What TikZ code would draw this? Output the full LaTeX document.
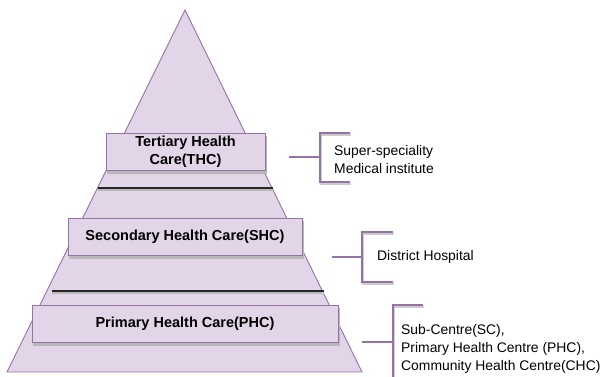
\documentclass[tikz,border=0pt]{standalone}
\usepackage{fontspec}
\setmainfont{Liberation Sans}
\definecolor{pfill}{HTML}{E1D5E7}
\definecolor{pdraw}{HTML}{9673A6}
\definecolor{shad}{HTML}{B8B8B8}
\definecolor{lshad}{HTML}{CCCCCC}
\begin{document}
\begin{tikzpicture}[x=1pt,y=-1pt,
  tier/.style={draw=pdraw,fill=pfill,line width=0.9pt,minimum height=37pt,inner sep=0pt,align=center,
    font=\fontsize{14.5}{17.5}\selectfont\bfseries,
    preaction={draw=shad,fill=shad,transform canvas={xshift=1.5pt,yshift=-3pt}}},
  sep/.style={draw=black!85,line width=1.1pt},
  brk/.style={draw=pdraw,line width=1.7pt},
  brkshadow/.style={draw=lshad,line width=1.7pt},
  lbl/.style={anchor=west,inner sep=0pt,align=left,font=\fontsize{13.9}{18}\selectfont}]
\useasboundingbox (0,0) rectangle (613,376);
% pyramid
\coordinate (apex) at (185,10);
\coordinate (bl) at (7,372);
\coordinate (br) at (362,372);
\filldraw[draw=pdraw,fill=pfill,line width=0.9pt,line join=miter] (apex) -- (br) -- (bl) -- cycle;
% separators
\coordinate (s1l) at (98,188); \coordinate (s1r) at (273,188);
\coordinate (s2l) at (52,291); \coordinate (s2r) at (324,291);
\draw[draw=shad,line width=1.1pt] ([yshift=-2pt]s1l) -- ([yshift=-2pt]s1r);
\draw[draw=shad,line width=1.1pt] ([yshift=-2pt]s2l) -- ([yshift=-2pt]s2r);
\draw[sep] (s1l) -- (s1r);
\draw[sep] (s2l) -- (s2r);
% tiers
\node[tier,minimum width=159pt] (thc) at (185.5,151.5) {Tertiary Health\\Care(THC)};
\node[tier,minimum width=234pt] (shc) at (185,237) {Secondary Health Care(SHC)};
\node[tier,minimum width=306pt] (phc) at (185,323.5) {Primary Health Care(PHC)};
% brackets
\coordinate (b1s) at (289,157); \coordinate (b1m) at (320,157);
\coordinate (b1t) at (320,133); \coordinate (b1b) at (320,182);
\coordinate (b1te) at (350,133); \coordinate (b1be) at (350,182);
\coordinate (b2s) at (332,257); \coordinate (b2m) at (362,257);
\coordinate (b2t) at (362,232); \coordinate (b2b) at (362,282);
\coordinate (b2te) at (393,232); \coordinate (b2be) at (393,282);
\coordinate (b3s) at (362,342); \coordinate (b3m) at (393,342);
\coordinate (b3t) at (393,305); \coordinate (b3b) at (393,380);
\coordinate (b3te) at (423,305);
\begin{scope}[transform canvas={xshift=1.2pt,yshift=-1.8pt}]
\draw[brkshadow] (b1te) -- (b1t) -- (b1b) -- (b1be);
\draw[brkshadow] (b2te) -- (b2t) -- (b2b) -- (b2be);
\draw[brkshadow] (b3te) -- (b3t) -- (b3b);
\end{scope}
\draw[brk] (b1s) -- (b1m);
\draw[brk] (b1te) -- (b1t) -- (b1b) -- (b1be);
\draw[brk] (b2s) -- (b2m);
\draw[brk] (b2te) -- (b2t) -- (b2b) -- (b2be);
\draw[brk] (b3s) -- (b3m);
\draw[brk] (b3te) -- (b3t) -- (b3b);
% labels
\node[lbl] (t1) at (334,159.5) {Super-speciality\\Medical institute};
\node[lbl] (t2) at (377,257) {District Hospital};
\node[lbl] (t3) at (401,348.5) {Sub-Centre(SC),\\Primary Health Centre (PHC),\\Community Health Centre(CHC)};
\end{tikzpicture}
\end{document}
